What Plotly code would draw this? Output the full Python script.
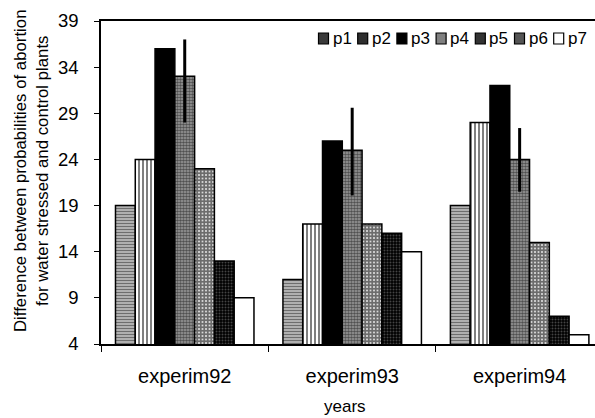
import plotly.graph_objects as go

# ---------------- data ----------------
categories = ["experim92", "experim93", "experim94"]
series_names = ["p1", "p2", "p3", "p4", "p5", "p6", "p7"]
p1 = [19, 11, 19]
p2 = [24, 17, 28]
p3 = [36, 26, 32]
p4 = [33, 25, 24]
p5 = [23, 17, 15]
p6 = [13, 16, 7]
p7 = [9, 14, 5]
p4_err_plus = [4.0, 4.6, 3.4]
p4_err_minus = [5.0, 4.9, 3.5]
y_ticks = [4, 9, 14, 19, 24, 29, 34, 39]

series_values = [p1, p2, p3, p4, p5, p6, p7]

# ---------------- styles ----------------
W, H = 595, 418
L, R, T, B = 101, 0, 21, 74
FONT = "Liberation Sans, Arial, Helvetica, sans-serif"

patterns = {
    "p1": dict(shape="-", fgcolor="black", bgcolor="#dcdcdc", size=3, solidity=0.6),
    "p2": dict(shape="|", fgcolor="black", bgcolor="white", size=4, solidity=0.5),
    "p3": None,
    "p4": dict(shape=".", fgcolor="black", bgcolor="#a0a0a0", size=3, solidity=0.6),
    "p5": dict(shape="+", fgcolor="black", bgcolor="#d8d8d8", size=3.5, solidity=0.75),
    "p6": dict(shape=".", fgcolor="#888888", bgcolor="black", size=3, solidity=0.35),
    "p7": None,
}
base_colors = {"p1": "white", "p2": "white", "p3": "black", "p4": "white",
               "p5": "white", "p6": "black", "p7": "white"}
swatch_fill = {"p1": "#3a3a3a", "p2": "#2e2e2e", "p3": "black", "p4": "#808080",
               "p5": "#333333", "p6": "#555555", "p7": "white"}

fig = go.Figure()
for name, vals in zip(series_names, series_values):
    marker = dict(color=base_colors[name], line=dict(color="black", width=1.5))
    if patterns[name] is not None:
        marker["pattern"] = patterns[name]
    kw = {}
    if name == "p4":
        kw["error_y"] = dict(type="data", symmetric=False, array=p4_err_plus,
                             arrayminus=p4_err_minus, color="black",
                             thickness=3, width=0)
    fig.add_trace(go.Bar(x=categories, y=vals, name=name, marker=marker,
                         showlegend=False, **kw))

def px2x(px):
    return (px - L) / (W - L - R)

def py2y(py):
    return (H - B - py) / (H - T - B)

# custom legend
leg_start, leg_pitch = 318.5, 39.2
shapes = []
annotations = []
for i, name in enumerate(series_names):
    sx = leg_start + i * leg_pitch
    shapes.append(dict(type="rect", xref="paper", yref="paper",
                       x0=px2x(sx), x1=px2x(sx + 10), y0=py2y(44), y1=py2y(33),
                       fillcolor=swatch_fill[name], line=dict(color="black", width=1.2)))
    annotations.append(dict(xref="paper", yref="paper", x=px2x(sx + 12), y=py2y(39),
                            xanchor="left", yanchor="middle", showarrow=False,
                            text=name, font=dict(family=FONT, size=17, color="black")))

# y title
annotations.append(dict(xref="paper", yref="paper", x=px2x(31), y=py2y(171),
                        xanchor="center", yanchor="middle", showarrow=False,
                        textangle=-90,
                        text="Difference between probabilities of abortion<br>for water stressed and control plants",
                        font=dict(family=FONT, size=16.8, color="black")))
# x title
annotations.append(dict(xref="paper", yref="paper", x=px2x(345), y=py2y(406),
                        xanchor="center", yanchor="middle", showarrow=False,
                        text="years", font=dict(family=FONT, size=17, color="black")))

fig.update_layout(
    width=W, height=H,
    margin=dict(l=L, r=R, t=T, b=B, pad=0),
    paper_bgcolor="white", plot_bgcolor="white",
    barmode="group", bargap=0.173, bargroupgap=0,
    font=dict(family=FONT, color="black"),
    shapes=shapes, annotations=annotations,
    xaxis=dict(range=[-0.5, 2.45], showline=True, linecolor="black", linewidth=1.5,
               mirror=True, ticks="outside", tickson="boundaries", ticklen=6,
               tickcolor="black", tickwidth=1, showgrid=False,
               tickfont=dict(family=FONT, size=20, color="black"),
               ticklabelstandoff=13),
    yaxis=dict(range=[4, 39], tickvals=y_ticks, showline=True, linecolor="black",
               linewidth=1.5, ticks="outside", ticklen=5, tickcolor="black",
               tickwidth=1, showgrid=False, zeroline=False,
               tickfont=dict(family=FONT, size=18.5, color="black"),
               ticklabelstandoff=12),
)

fig.write_html("out.html")
